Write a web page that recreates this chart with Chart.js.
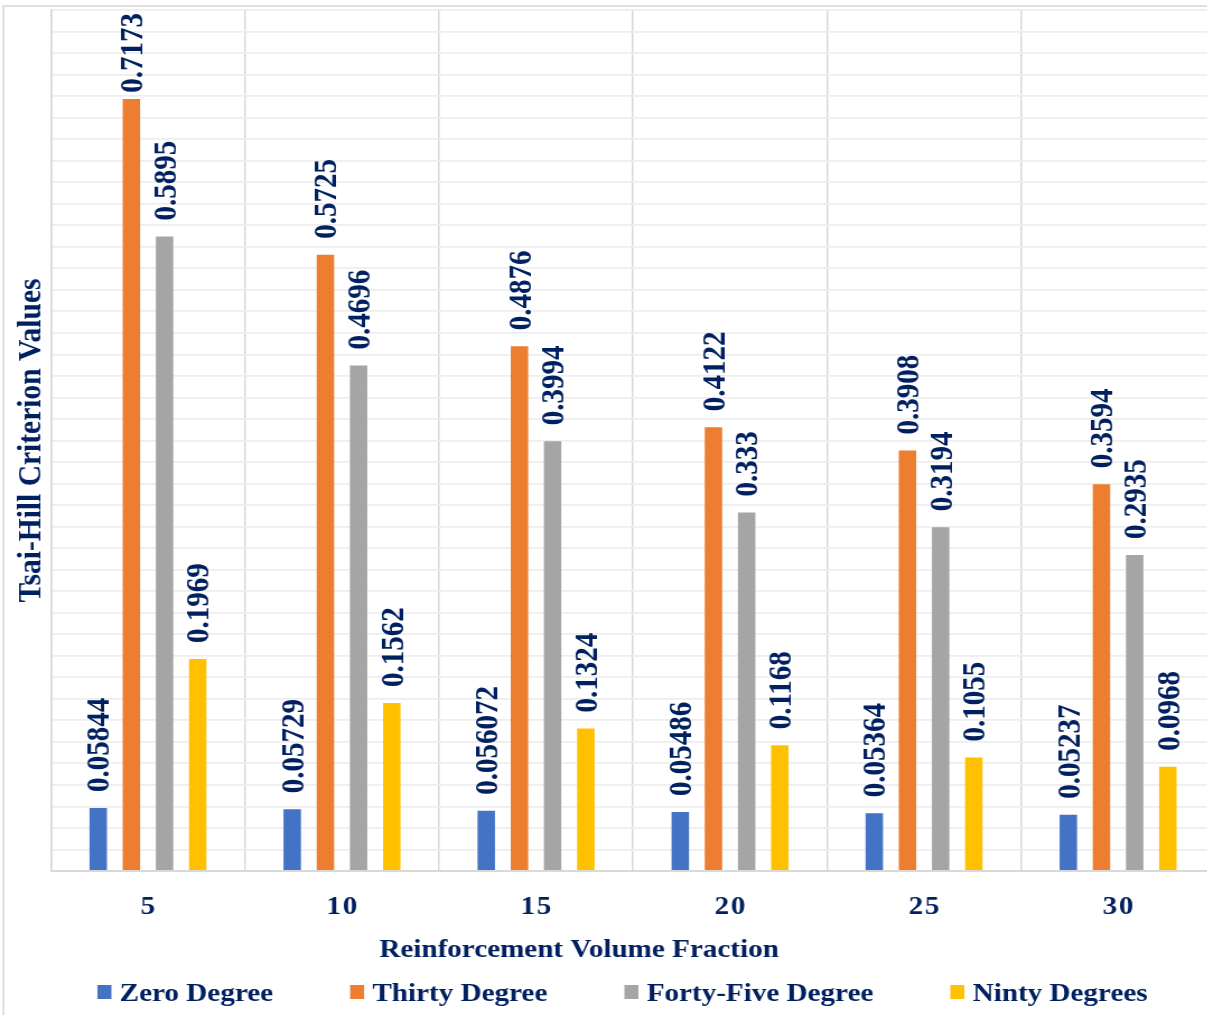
<!DOCTYPE html>
<html><head><meta charset="utf-8">
<script src="https://cdn.jsdelivr.net/npm/chart.js@4.4.1/dist/chart.umd.min.js"></script>
<style>
html,body{margin:0;padding:0;overflow:hidden;background:#fff;width:1207px;height:1015px;}
#wrap{position:absolute;left:0;top:0;width:1092px;height:1015px;transform:scaleX(1.12);transform-origin:0 0;}
canvas{display:block;}
</style></head><body>
<div id="wrap"><canvas id="c" width="1092" height="1015"></canvas></div>
<script>
const categories = ['5', '10', '15', '20', '25', '30'];
const seriesNames = ['Zero Degree', 'Thirty Degree', 'Forty-Five Degree', 'Ninty Degrees'];
const zeroDegree = [0.05844, 0.05729, 0.056072, 0.05486, 0.05364, 0.05237];
const thirtyDegree = [0.7173, 0.5725, 0.4876, 0.4122, 0.3908, 0.3594];
const fortyFiveDegree = [0.5895, 0.4696, 0.3994, 0.333, 0.3194, 0.2935];
const nintyDegrees = [0.1969, 0.1562, 0.1324, 0.1168, 0.1055, 0.0968];
const seriesColors = ['#4472C4', '#ED7D31', '#A5A5A5', '#FFC000'];
const xTitle = 'Reinforcement Volume Fraction';
const yTitle = 'Tsai-Hill Criterion Values';

const NAVY = '#002060';
const FAM = "'Liberation Serif', 'Times New Roman', serif";

const seriesValues = [zeroDegree, thirtyDegree, fortyFiveDegree, nintyDegrees];

const frameAndLegend = {
  id: 'frameAndLegend',
  afterLayout(chart) {
    const s = chart.scales.x;
    if (s && !s._spaced) {
      const orig = s.drawLabels.bind(s);
      s.drawLabels = function (area) {
        const ctx = this.ctx;
        const prev = ctx.letterSpacing;
        ctx.letterSpacing = '1.5px';
        ctx.save();
        ctx.translate(0.75, 0);
        orig(area);
        ctx.restore();
        ctx.letterSpacing = prev || '0px';
      };
      s._spaced = true;
    }
  },
  beforeDraw(chart) {
    const ctx = chart.ctx;
    ctx.save();
    ctx.fillStyle = '#fff';
    ctx.fillRect(0, 0, chart.width, chart.height);
    ctx.strokeStyle = '#D9D9D9';
    ctx.lineWidth = 1.6;
    ctx.strokeRect(3.1, 6, 3000, 3000);
    ctx.restore();
  },
  afterDraw(chart) {
    const ctx = chart.ctx;
    ctx.save();
    ctx.letterSpacing = '0px';
    // x axis title
    ctx.font = `bold 26px ${FAM}`;
    ctx.fillStyle = NAVY;
    ctx.textAlign = 'center';
    ctx.textBaseline = 'alphabetic';
    ctx.fillText(xTitle, 517, 956.5);
    // legend
    ctx.font = `bold 26px ${FAM}`;
    const boxW = 12.5, boxH = 14, gapText = 7.4, gapItem = 68.8;
    const items = chart.data.datasets.map(ds => ({
      label: ds.label, color: ds.backgroundColor,
      w: ctx.measureText(ds.label).width
    }));
    let total = 0;
    items.forEach((it, i) => { total += boxW + gapText + it.w + (i < items.length - 1 ? gapItem : 0); });
    let x = 555.8 - total / 2;
    const baseY = 1000.5;
    ctx.textAlign = 'left';
    items.forEach(it => {
      ctx.fillStyle = it.color;
      ctx.fillRect(x, 985, boxW, boxH);
      ctx.fillStyle = NAVY;
      ctx.fillText(it.label, x + boxW + gapText, baseY);
      x += boxW + gapText + it.w + gapItem;
    });
    ctx.restore();
  }
};

const barLabels = {
  id: 'barLabels',
  afterDatasetsDraw(chart) {
    const ctx = chart.ctx;
    const top = chart.chartArea.top;
    const fs = 29;
    ctx.save();
    ctx.letterSpacing = '0px';
    ctx.font = `bold ${fs}px ${FAM}`;
    ctx.fillStyle = NAVY;
    ctx.textAlign = 'left';
    ctx.textBaseline = 'alphabetic';
    chart.data.datasets.forEach((ds, di) => {
      const meta = chart.getDatasetMeta(di);
      meta.data.forEach((bar, i) => {
        const txt = String(ds.data[i]);
        const w = ctx.measureText(txt).width;
        let start = bar.y - 16;
        if (start - w < top + 3) start = top + 3 + w;
        ctx.save();
        ctx.translate(bar.x + 0.338 * fs, start);
        ctx.rotate(-Math.PI / 2);
        ctx.fillText(txt, 0, 0);
        ctx.restore();
      });
    });
    ctx.restore();
  }
};

new Chart(document.getElementById('c'), {
  type: 'bar',
  data: {
    labels: categories,
    datasets: seriesNames.map((name, i) => ({
      label: name,
      data: seriesValues[i],
      backgroundColor: seriesColors[i],
      borderWidth: 0,
      categoryPercentage: 0.684,
      barPercentage: 0.525
    }))
  },
  options: {
    responsive: false,
    animation: false,
    events: [],
    layout: { padding: { top: 10, left: 0, right: 7.1, bottom: 49 } },
    plugins: { legend: { display: false }, tooltip: { enabled: false } },
    scales: {
      x: {
        grid: { offset: true, color: '#D9D9D9', lineWidth: 1.5, drawTicks: false },
        border: { color: '#D9D9D9', width: 2 },
        ticks: { padding: 21, color: NAVY, font: { family: FAM, size: 26, weight: 'bold' } },
        afterFit(s) { s.height = 95; }
      },
      y: {
        min: 0, max: 0.8,
        ticks: { display: false, stepSize: 0.02, maxTicksLimit: 100 },
        grid: { color: '#EEEEEE', lineWidth: 1.8, drawTicks: false },
        border: { display: true, color: '#D9D9D9', width: 1.5 },
        title: {
          display: true, text: yTitle, color: NAVY,
          font: { family: FAM, size: 29.5, weight: 'bold', lineHeight: 1.2 },
          padding: { top: 10.5, bottom: 0 }
        },
        afterFit(s) { s.width = 45.5; }
      }
    }
  },
  plugins: [frameAndLegend, barLabels]
});
</script>
</body></html>
